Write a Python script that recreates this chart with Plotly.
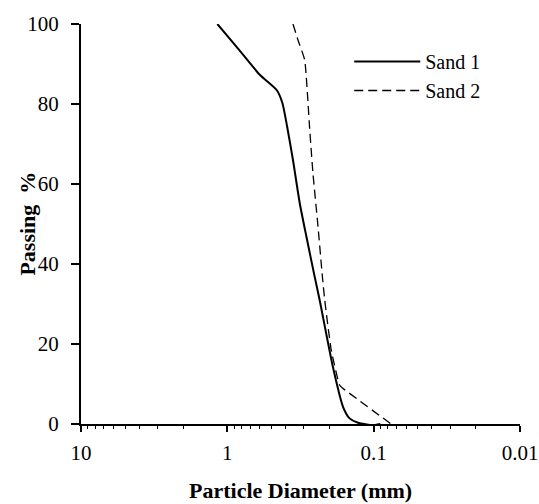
import plotly.graph_objects as go

# Data
sand1_d = [1.17, 0.839, 0.60, 0.46, 0.42, 0.39, 0.356, 0.32, 0.288, 0.253, 0.234, 0.19, 0.162, 0.146, 0.128, 0.101, 0.09]
sand1_p = [100, 93.7, 87.3, 83.5, 80.2, 74.3, 66, 55.2, 46.8, 36.8, 31, 14.3, 4.3, 1.4, 0.3, -0.3, 0]

sand2_d = [0.356, 0.329, 0.296, 0.274, 0.26, 0.24, 0.224, 0.216, 0.195, 0.171, 0.162, 0.076]
sand2_p = [100, 96, 91, 74, 62.7, 49.3, 36.8, 31, 18.5, 9.75, 8.9, 0]

x_tickvals = [10, 1, 0.1, 0.01]
x_ticktext = ["10", "1", "0.1", "0.01"]
y_tickvals = [0, 20, 40, 60, 80, 100]
minor_vals = [m * 10 ** e for e in (0, -1, -2) for m in range(2, 10)]

FONT = "Liberation Serif"

fig = go.Figure()
fig.add_trace(go.Scatter(x=sand1_d, y=sand1_p, mode="lines", name="Sand 1",
                         line=dict(color="black", width=2, shape="spline", smoothing=0.6)))
fig.add_trace(go.Scatter(x=sand2_d, y=sand2_p, mode="lines", name="Sand 2",
                         line=dict(color="black", width=1.3, dash="9px,5px", shape="spline", smoothing=0.4)))

fig.update_layout(
    width=539, height=504,
    margin=dict(l=81, r=18.5, t=24, b=80),
    paper_bgcolor="white", plot_bgcolor="white",
    font=dict(family=FONT, size=20, color="black"),
    showlegend=True,
    legend=dict(x=0.611, y=0.955, xanchor="left", yanchor="top", itemwidth=66,
                bgcolor="rgba(0,0,0,0)", font=dict(family=FONT, size=20, color="black"),
                tracegroupgap=0),
    annotations=[
        dict(text="<b>Passing&nbsp;&nbsp;%</b>", textangle=-90, xref="paper", yref="paper",
             x=-0.124, y=0.5, xanchor="center", yanchor="middle", showarrow=False,
             font=dict(family=FONT, size=22, color="black")),
        dict(text="<b>Particle Diameter (mm)</b>", xref="paper", yref="paper",
             x=0.5, y=-0.165, xanchor="center", yanchor="middle", showarrow=False,
             font=dict(family=FONT, size=22, color="black")),
    ],
)
fig.update_xaxes(
    type="log", range=[1, -2], autorange=False, automargin=False,
    tickvals=x_tickvals, ticktext=x_ticktext,
    tickfont=dict(family=FONT, size=21, color="black"),
    ticks="outside", ticklen=6, tickwidth=1.5, tickcolor="black",
    showline=True, linecolor="black", linewidth=2,
    showgrid=False, zeroline=False,
    ticklabelstandoff=3,
    minor=dict(tickvals=minor_vals, ticks="outside", ticklen=3, tickwidth=1.2, tickcolor="black", showgrid=False),
)
fig.update_yaxes(
    range=[0, 100], autorange=False, automargin=False,
    tickvals=y_tickvals,
    tickfont=dict(family=FONT, size=21, color="black"),
    ticks="outside", ticklen=8, tickwidth=1.5, tickcolor="black",
    showline=True, linecolor="black", linewidth=2,
    showgrid=False, zeroline=False,
    ticklabelstandoff=8,
)

fig.write_html("out.html")
